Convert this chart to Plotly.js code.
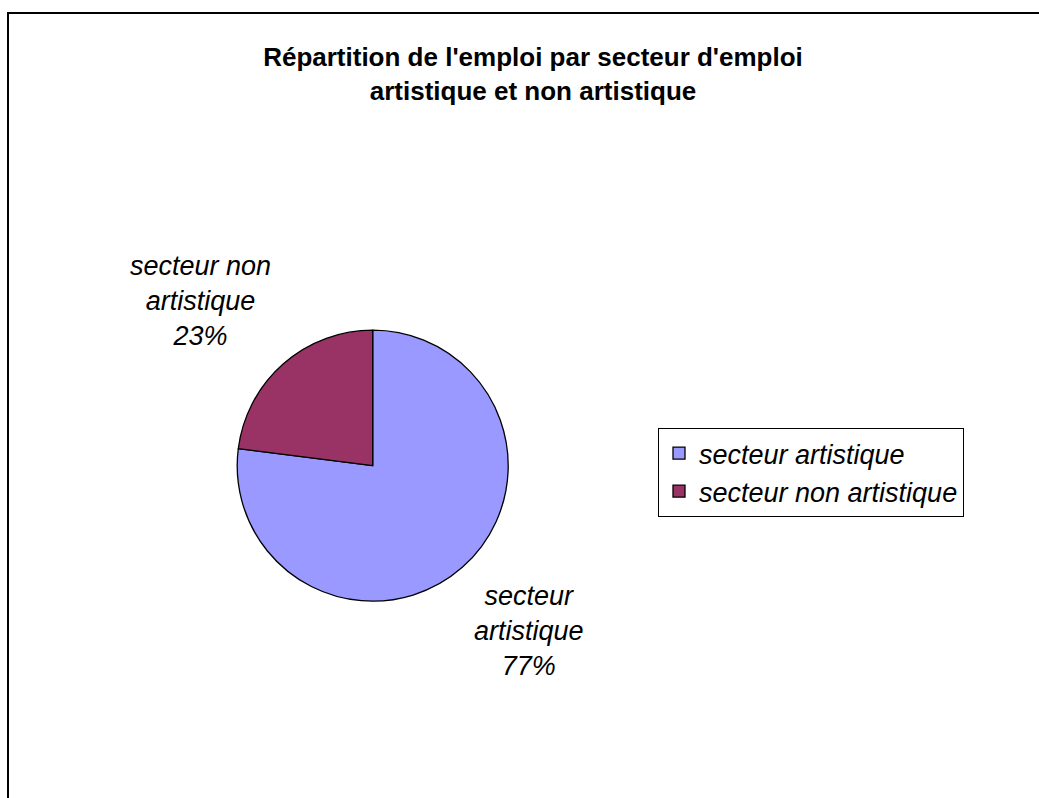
<!DOCTYPE html>
<html>
<head>
<meta charset="utf-8">
<script src="https://cdn.plot.ly/plotly-3.0.1.min.js"></script>
<style>html,body{margin:0;padding:0;background:#fff;}#chart{width:1039px;height:798px;}</style>
</head>
<body>
<div id="chart"></div>
<script>
const categories = ["secteur artistique", "secteur non artistique"];
const labelLines = ["secteur<br>artistique", "secteur non<br>artistique"];
const values = [77, 23];
const colors = ["#9999FF", "#993366"];
const titleText = "Répartition de l'emploi par secteur d'emploi<br>artistique et non artistique";

const W = 1039, H = 798;
const cx = 372.7, cy = 465.7, r = 135.5;
const FONT = "Liberation Sans, Arial, sans-serif";

const trace = {
  type: "pie",
  labels: categories,
  values: values,
  sort: false,
  direction: "clockwise",
  rotation: 0,
  marker: {colors: colors, line: {color: "#000000", width: 1.3}},
  textinfo: "none",
  hoverinfo: "label+percent",
  domain: {x: [(cx - r) / W, (cx + r) / W], y: [(H - cy - r) / H, (H - cy + r) / H]}
};

// outside labels: placed along each slice's mid-angle, just beyond the rim
const total = values.reduce((a, b) => a + b, 0);
const annotations = [];
let cum = 0;
const gap = 15;
values.forEach((v, i) => {
  const mid = (cum + v / 2) / total * 2 * Math.PI; // clockwise from top
  cum += v;
  const px = cx + (r + gap) * Math.sin(mid);
  const py = cy - (r + gap) * Math.cos(mid);
  const pct = Math.round(v / total * 100) + "%";
  annotations.push({
    xref: "paper", yref: "paper",
    x: px / W, y: (H - py) / H,
    xanchor: Math.sin(mid) >= 0 ? "left" : "right",
    yanchor: Math.cos(mid) >= 0 ? "bottom" : "top",
    text: labelLines[i] + "<br>" + pct,
    showarrow: false,
    align: "center",
    font: {family: FONT, size: 27, color: "#000000", style: "italic"}
  });
});

const layout = {
  width: W, height: H,
  margin: {l: 0, r: 0, t: 0, b: 0},
  paper_bgcolor: "#ffffff",
  font: {family: FONT, color: "#000000"},
  title: {
    text: "<b>" + titleText + "</b>",
    x: 533 / W, xanchor: "center",
    y: (H - 66) / H, yanchor: "top",
    font: {family: FONT, size: 26, color: "#000000"}
  },
  showlegend: true,
  legend: {
    x: 658 / W, xanchor: "left",
    y: (H - 428) / H, yanchor: "top",
    bordercolor: "#000000", borderwidth: 1,
    bgcolor: "#ffffff",
    font: {family: FONT, size: 27, color: "#000000", style: "italic"},
    itemwidth: 30,
    tracegroupgap: 0
  },
  annotations: annotations,
  shapes: [{
    type: "rect", xref: "paper", yref: "paper",
    x0: 8 / W, x1: 1.05, y0: -0.05, y1: (H - 13) / H,
    line: {color: "#000000", width: 2}
  }]
};

Plotly.newPlot("chart", [trace], layout, {displayModeBar: false, staticPlot: true});
</script>
</body>
</html>
